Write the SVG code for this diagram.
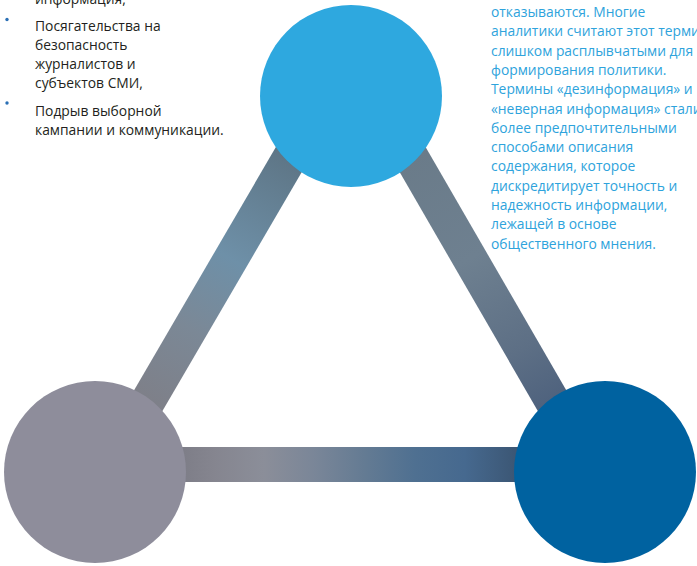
<svg xmlns="http://www.w3.org/2000/svg" width="697" height="566" viewBox="0 0 697 566">
  <style>
    .bar { fill: none; stroke-width: 35; stroke-linecap: butt; }
    .lt { font-family: "Open Sans", "Liberation Sans", sans-serif; font-size: 13.85px; fill: #231f20; }
    .rt { font-family: "Open Sans", "Liberation Sans", sans-serif; font-size: 13.85px; fill: #2ea3dc; }
    .bullet { fill: #2a6fb5; }
  </style>
  <defs>
    <linearGradient id="gLeft" gradientUnits="userSpaceOnUse" x1="351" y1="53" x2="111" y2="465">
      <stop offset="0" stop-color="#566b7a"/>
      <stop offset="0.24" stop-color="#5d7484"/>
      <stop offset="0.5" stop-color="#6e90a8"/>
      <stop offset="0.67" stop-color="#7b8896"/>
      <stop offset="0.84" stop-color="#7e8089"/>
      <stop offset="1" stop-color="#7a7a80"/>
    </linearGradient>
    <linearGradient id="gRight" gradientUnits="userSpaceOnUse" x1="351" y1="53" x2="589" y2="465">
      <stop offset="0" stop-color="#66788a"/>
      <stop offset="0.25" stop-color="#6a7b89"/>
      <stop offset="0.5" stop-color="#6e8090"/>
      <stop offset="0.72" stop-color="#5d6f85"/>
      <stop offset="0.88" stop-color="#4b5f7c"/>
      <stop offset="1" stop-color="#465a78"/>
    </linearGradient>
    <linearGradient id="gBottom" gradientUnits="userSpaceOnUse" x1="180" y1="0" x2="515" y2="0">
      <stop offset="0" stop-color="#7d7d87"/>
      <stop offset="0.1" stop-color="#85858f"/>
      <stop offset="0.25" stop-color="#8b8e99"/>
      <stop offset="0.4" stop-color="#7a8698"/>
      <stop offset="0.55" stop-color="#647b93"/>
      <stop offset="0.7" stop-color="#4f7091"/>
      <stop offset="0.85" stop-color="#46698f"/>
      <stop offset="1" stop-color="#3c5775"/>
    </linearGradient>
  </defs>

  <g id="connectors">
    <line class="bar" x1="111" y1="464.5" x2="351" y2="53" stroke="url(#gLeft)"/>
    <line class="bar" x1="351" y1="53" x2="589" y2="464.5" stroke="url(#gRight)"/>
    <line class="bar" x1="111" y1="464.5" x2="589" y2="464.5" stroke="url(#gBottom)"/>
  </g>

  <g id="node-top">
    <circle cx="351" cy="96" r="91" fill="#2ea8df"/>
  </g>
  <g id="node-left">
    <circle cx="95" cy="472" r="91" fill="#8e8d9b"/>
  </g>
  <g id="node-right">
    <circle cx="605" cy="472" r="91" fill="#0062a0"/>
  </g>

  <g id="left-text">
    <text class="lt" x="35" y="3.5">информация,</text>
    <circle class="bullet" cx="7" cy="19.5" r="1.7"/>
    <text class="lt" x="35" y="30.5">Посягательства на</text>
    <text class="lt" x="35" y="49.5">безопасность</text>
    <text class="lt" x="35" y="68.5">журналистов и</text>
    <text class="lt" x="35" y="87.5">субъектов СМИ,</text>
    <circle class="bullet" cx="7" cy="103" r="1.7"/>
    <text class="lt" x="35" y="116">Подрыв выборной</text>
    <text class="lt" x="35" y="135">кампании и коммуникации.</text>
  </g>

  <g id="right-text">
    <text class="rt" x="491" y="17">отказываются. Многие</text>
    <text class="rt" x="491" y="36.3">аналитики считают этот термин</text>
    <text class="rt" x="491" y="55.6">слишком расплывчатыми для</text>
    <text class="rt" x="491" y="74.9">формирования политики.</text>
    <text class="rt" x="491" y="94.2">Термины «дезинформация» и</text>
    <text class="rt" x="491" y="113.5">«неверная информация» стали</text>
    <text class="rt" x="491" y="132.8">более предпочтительными</text>
    <text class="rt" x="491" y="152.1">способами описания</text>
    <text class="rt" x="491" y="171.4">содержания, которое</text>
    <text class="rt" x="491" y="190.7">дискредитирует точность и</text>
    <text class="rt" x="491" y="210">надежность информации,</text>
    <text class="rt" x="491" y="229.3">лежащей в основе</text>
    <text class="rt" x="491" y="248.6">общественного мнения.</text>
  </g>
</svg>
